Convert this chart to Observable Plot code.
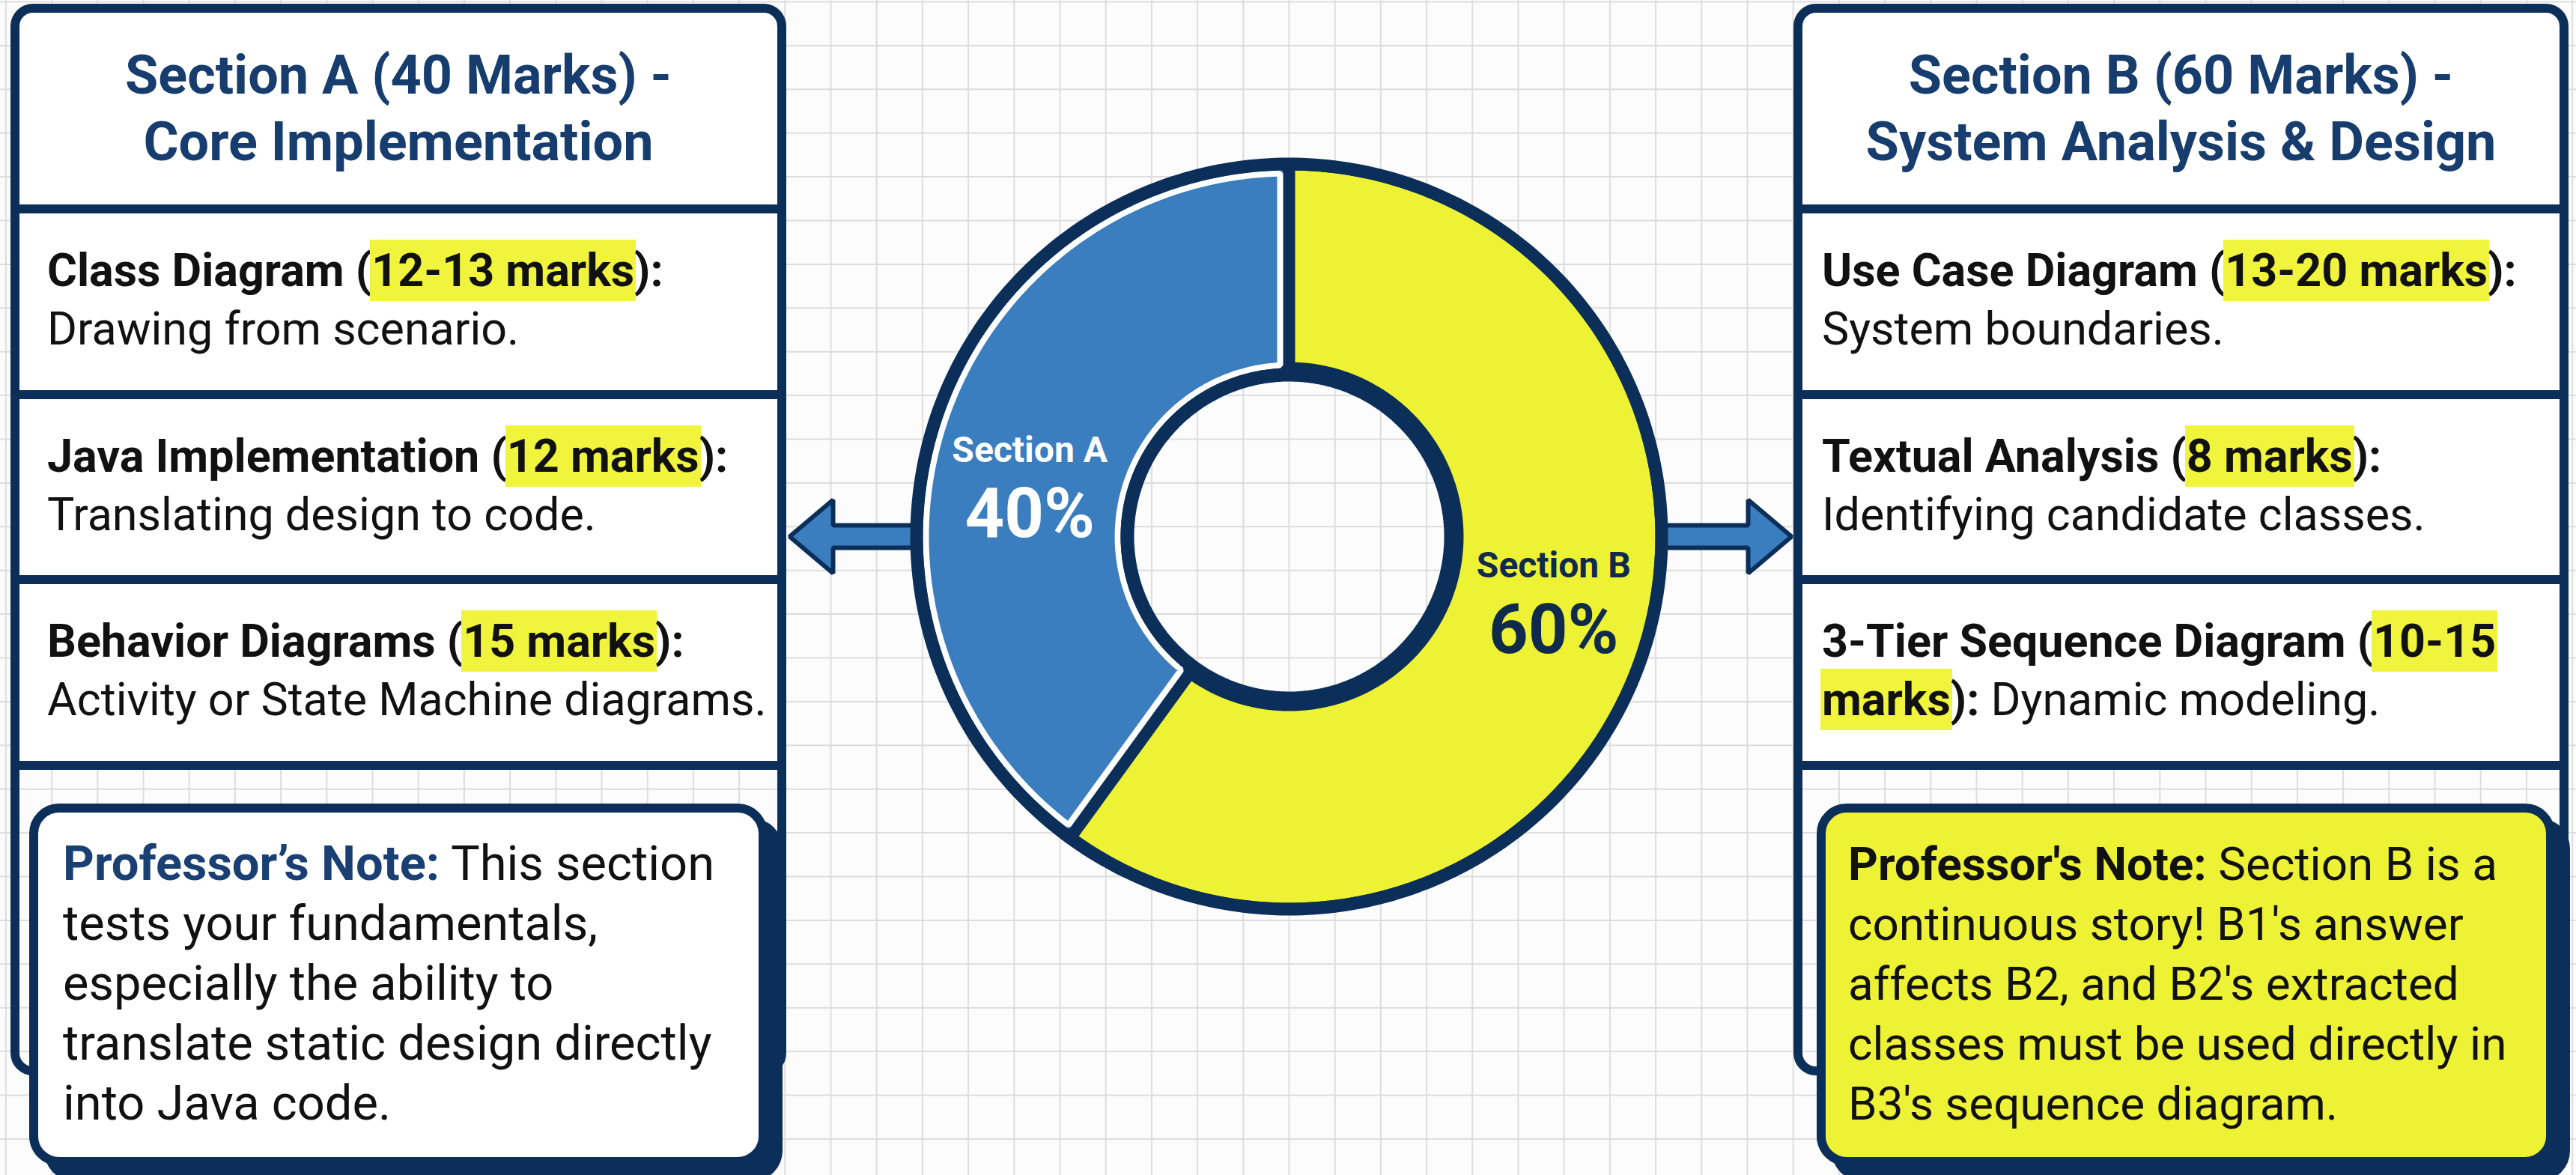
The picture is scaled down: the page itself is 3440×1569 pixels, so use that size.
<!DOCTYPE html>
<html>
<head>
<meta charset="utf-8">
<script src="https://cdn.jsdelivr.net/npm/d3@7"></script>
<script src="https://cdn.jsdelivr.net/npm/@observablehq/plot@0.6"></script>
<style>
html,body{margin:0;padding:0;background:#fcfcfc;}
#page{position:relative;width:3440px;height:1569px;overflow:hidden;font-family:Roboto,"Noto Sans","DejaVu Sans",sans-serif;color:#111;}
#chart{position:absolute;left:0;top:0;width:3440px;height:1569px;}
.panel{position:absolute;box-sizing:border-box;border-style:solid;border-color:#0c2f5a;border-radius:30px;}
.divider{position:absolute;left:0;right:0;background:#0c2f5a;}
.head{position:absolute;left:0;right:0;text-align:center;font-weight:700;color:#163d6e;white-space:nowrap;}
.row{position:absolute;white-space:nowrap;}
.row b{font-weight:700;}
.hl{background:#f1f43c;padding:5px 2px;margin:0 -2px;}
.note{position:absolute;box-sizing:border-box;border-style:solid;border-color:#0c2f5a;border-radius:40px;}
.notetext{position:absolute;white-space:nowrap;}
</style>
</head>
<body>
<div id="page"><div id="chart"></div></div>
<script>
// ---------------- data ----------------
const sections = ["Section A", "Section B"];
const shares = [40, 60];
const shareLabels = ["40%", "60%"];
const panelTitlesA = ["Section A (40 Marks) -", "Core Implementation"];
const panelTitlesB = ["Section B (60 Marks) -", "System Analysis & Design"];
const itemNamesA = ["Class Diagram", "Java Implementation", "Behavior Diagrams"];
const itemMarksA = ["12-13 marks", "12 marks", "15 marks"];
const itemDescA = ["Drawing from scenario.", "Translating design to code.", "Activity or State Machine diagrams."];
const itemNamesB = ["Use Case Diagram", "Textual Analysis", "3-Tier Sequence Diagram"];
const itemMarksB = ["13-20 marks", "8 marks", "10-15 marks"];
const itemDescB = ["System boundaries.", "Identifying candidate classes.", "Dynamic modeling."];
const noteLabels = ["Professor\u2019s Note:", "Professor's Note:"];
const noteLinesA = ["This section", "tests your fundamentals,", "especially the ability to", "translate static design directly", "into Java code."];
const noteLinesB = ["Section B is a", "continuous story! B1's answer", "affects B2, and B2's extracted", "classes must be used directly in", "B3's sequence diagram."];

// ---------------- styles / layout ----------------
const NAVY = "#0c2f5a";
const BLUE = "#3a7ebf";
const YELLOW = "#eef234";
const sliceFill = [BLUE, YELLOW];
const labelFill = ["#ffffff", "#0f2a4a"];
const W = 3440, H = 1569;

const L = {
  panelTop: 5, panelHeight: 1431, border: 12,
  panels: [{left: 14, width: 1036, textLeft: 37}, {left: 2395, width: 1035, textLeft: 26}],
  dividers: [256, 504, 751, 999],
  headFont: 72, headLH: 89, headBase: 108,
  rowFont: 61, rowLH: 78, rowBases: [365, 613, 860],
  noteTop: 1073, noteW: 986, noteH: 484, noteBorder: 12,
  notes: [{left: 39, textLeft: 33, bg: "#ffffff", labelColor: "#1a3f73", font: 65},
          {left: 2426, textLeft: 30, bg: YELLOW, labelColor: "#111", font: 62}],
  noteLH: 80, noteBase: 90,
  splitMarks: [[], [2]]
};
const topFor = (base, fs, lh) => base - ((lh - fs * 1.1719) / 2 + fs * 0.9277);

const page = document.getElementById("page");
function el(tag, cls, style, html) {
  const e = document.createElement(tag);
  if (cls) e.className = cls;
  Object.assign(e.style, style || {});
  if (html != null) e.innerHTML = html;
  return e;
}
const esc = s => s.replace(/&/g, "&amp;").replace(/</g, "&lt;");

const panelData = [
  {titles: panelTitlesA, names: itemNamesA, marks: itemMarksA, descs: itemDescA, noteLabel: noteLabels[0], noteLines: noteLinesA},
  {titles: panelTitlesB, names: itemNamesB, marks: itemMarksB, descs: itemDescB, noteLabel: noteLabels[1], noteLines: noteLinesB}
];

panelData.forEach((p, i) => {
  const P = L.panels[i];
  const panel = el("div", "panel", {
    left: P.left + "px", top: L.panelTop + "px", width: P.width + "px", height: L.panelHeight + "px",
    borderWidth: L.border + "px",
    background: "linear-gradient(to bottom, #ffffff 0px, #ffffff 1005px, rgba(255,255,255,0) 1005px)"
  });
  L.dividers.forEach(d => panel.appendChild(el("div", "divider", {top: d + "px", height: L.border + "px"})));
  panel.appendChild(el("div", "head", {
    top: topFor(L.headBase, L.headFont, L.headLH) + "px", fontSize: L.headFont + "px", lineHeight: L.headLH + "px"
  }, p.titles.map(esc).join("<br>")));
  p.names.forEach((name, j) => {
    let html;
    if (L.splitMarks[i].includes(j)) {
      const parts = p.marks[j].split(" ");
      html = `<b>${esc(name)} (<span class="hl">${esc(parts[0])}</span></b><br><b><span class="hl">${esc(parts.slice(1).join(" "))}</span>):</b> ${esc(p.descs[j])}`;
    } else {
      html = `<b>${esc(name)} (<span class="hl">${esc(p.marks[j])}</span>):</b><br>${esc(p.descs[j])}`;
    }
    panel.appendChild(el("div", "row", {
      left: P.textLeft + "px", top: topFor(L.rowBases[j], L.rowFont, L.rowLH) + "px",
      fontSize: L.rowFont + "px", lineHeight: L.rowLH + "px"
    }, html));
  });
  page.appendChild(panel);

  const N = L.notes[i];
  const note = el("div", "note", {
    left: N.left + "px", top: L.noteTop + "px", width: L.noteW + "px", height: L.noteH + "px",
    borderWidth: L.noteBorder + "px", background: N.bg, boxShadow: `20px 20px 0 ${NAVY}`
  });
  const lines = p.noteLines.map(esc);
  lines[0] = `<b style="font-weight:700;color:${N.labelColor}">${esc(p.noteLabel)}</b> ` + lines[0];
  note.appendChild(el("div", "notetext", {
    left: N.textLeft + "px", top: topFor(L.noteBase, N.font, L.noteLH) + "px",
    fontSize: N.font + "px", lineHeight: L.noteLH + "px"
  }, lines.join("<br>")));
  page.appendChild(note);
});

// ---------------- donut with Plot ----------------
const C = {x: 1721, y: 716};
const R = {hole: 225, outer: 497, outerW: 17, innerR: 216, innerW: 18, inset: 12};
const pie = d3.pie().sort(null).startAngle(0).endAngle(-2 * Math.PI);
const arcs = pie(shares);
const pt = (a, r) => ({x: C.x + r * Math.sin(a), y: C.y - r * Math.cos(a)});
function arcPts(a0, a1, r, n) {
  const out = [];
  for (let k = 0; k <= n; k++) out.push(pt(a0 + (a1 - a0) * k / n, r));
  return out;
}
function slicePoly(a0, a1, rIn, rOut, inset) {
  const s = Math.sign(a1 - a0);
  const dO = Math.asin(inset / rOut) * s, dI = Math.asin(inset / rIn) * s;
  return [...arcPts(a0 + dO, a1 - dO, rOut, 240), ...arcPts(a1 - dI, a0 + dI, rIn, 120)];
}
const circle = r => arcPts(0, 2 * Math.PI, r, 360);

// arrows from donut edge to panel edges
const leftTip = L.panels[0].left + L.panels[0].width + 4;
const rightTip = L.panels[1].left - 3;
const headLen = 58, headHalf = 49, shaftHalf = 15;
function arrow(tip, dir) {
  const base = tip + dir * headLen, start = C.x - dir * (R.outer - 2);
  return [
    {x: tip, y: C.y}, {x: base, y: C.y - headHalf}, {x: base, y: C.y - shaftHalf},
    {x: start, y: C.y - shaftHalf}, {x: start, y: C.y + shaftHalf},
    {x: base, y: C.y + shaftHalf}, {x: base, y: C.y + headHalf}
  ];
}

// label positions from slice centroids (with small nudges)
const arcGen = d3.arc().innerRadius(R.hole).outerRadius(R.outer);
const nudge = [{dx: -3, dy: 39}, {dx: 10, dy: -30}];
const labels = arcs.map((a, i) => {
  const [x, y] = arcGen.centroid(a);
  return {name: sections[i], value: shareLabels[i], x: C.x + x + nudge[i].dx, y: C.y + y + nudge[i].dy, fill: labelFill[i]};
});

const gridX = d3.range(7.4, W, 61.2);
const gridY = d3.range(2, H, 58.4);

const sliceMarks = arcs.map((a, i) => Plot.line(slicePoly(a.startAngle, a.endAngle, R.hole, R.outer, 0), {
  x: "x", y: "y", curve: "linear-closed", fill: sliceFill[i], stroke: NAVY, strokeWidth: 16, strokeLinejoin: "miter"
}));
const insetMark = Plot.line(slicePoly(arcs[0].startAngle, arcs[0].endAngle, R.hole + 4, R.outer - 12, R.inset), {
  x: "x", y: "y", curve: "linear-closed", fill: "none", stroke: "#ffffff", strokeWidth: 8, strokeLinejoin: "miter"
});

const chart = Plot.plot({
  width: W, height: H, margin: 0,
  x: {domain: [0, W], range: [0, W], axis: null},
  y: {domain: [0, H], range: [0, H], axis: null},
  style: {background: "#fcfcfc", maxWidth: "none"},
  marks: [
    Plot.ruleX(gridX, {stroke: "#dddddd", strokeWidth: 2}),
    Plot.ruleY(gridY, {stroke: "#dddddd", strokeWidth: 2}),
    Plot.line(arrow(leftTip, 1), {x: "x", y: "y", curve: "linear-closed", fill: BLUE, stroke: NAVY, strokeWidth: 6, strokeLinejoin: "miter"}),
    Plot.line(arrow(rightTip, -1), {x: "x", y: "y", curve: "linear-closed", fill: BLUE, stroke: NAVY, strokeWidth: 6, strokeLinejoin: "miter"}),
    ...sliceMarks,
    insetMark,
    Plot.line(circle(R.outer + R.outerW / 2 - 8), {x: "x", y: "y", curve: "linear-closed", fill: "none", stroke: NAVY, strokeWidth: R.outerW}),
    Plot.line(circle(R.innerR), {x: "x", y: "y", curve: "linear-closed", fill: "none", stroke: NAVY, strokeWidth: R.innerW}),
    Plot.text(labels.slice(0, 1), {x: "x", y: d => d.y - 42, text: "name", fill: labelFill[0], fontSize: 48, fontWeight: 700, fontFamily: "Roboto"}),
    Plot.text(labels.slice(0, 1), {x: "x", y: d => d.y + 44, text: "value", fill: labelFill[0], fontSize: 92, fontWeight: 700, fontFamily: "Roboto"}),
    Plot.text(labels.slice(1), {x: "x", y: d => d.y - 42, text: "name", fill: labelFill[1], fontSize: 48, fontWeight: 700, fontFamily: "Roboto"}),
    Plot.text(labels.slice(1), {x: "x", y: d => d.y + 44, text: "value", fill: labelFill[1], fontSize: 92, fontWeight: 700, fontFamily: "Roboto"})
  ]
});
document.getElementById("chart").appendChild(chart);
</script>
</body>
</html>
